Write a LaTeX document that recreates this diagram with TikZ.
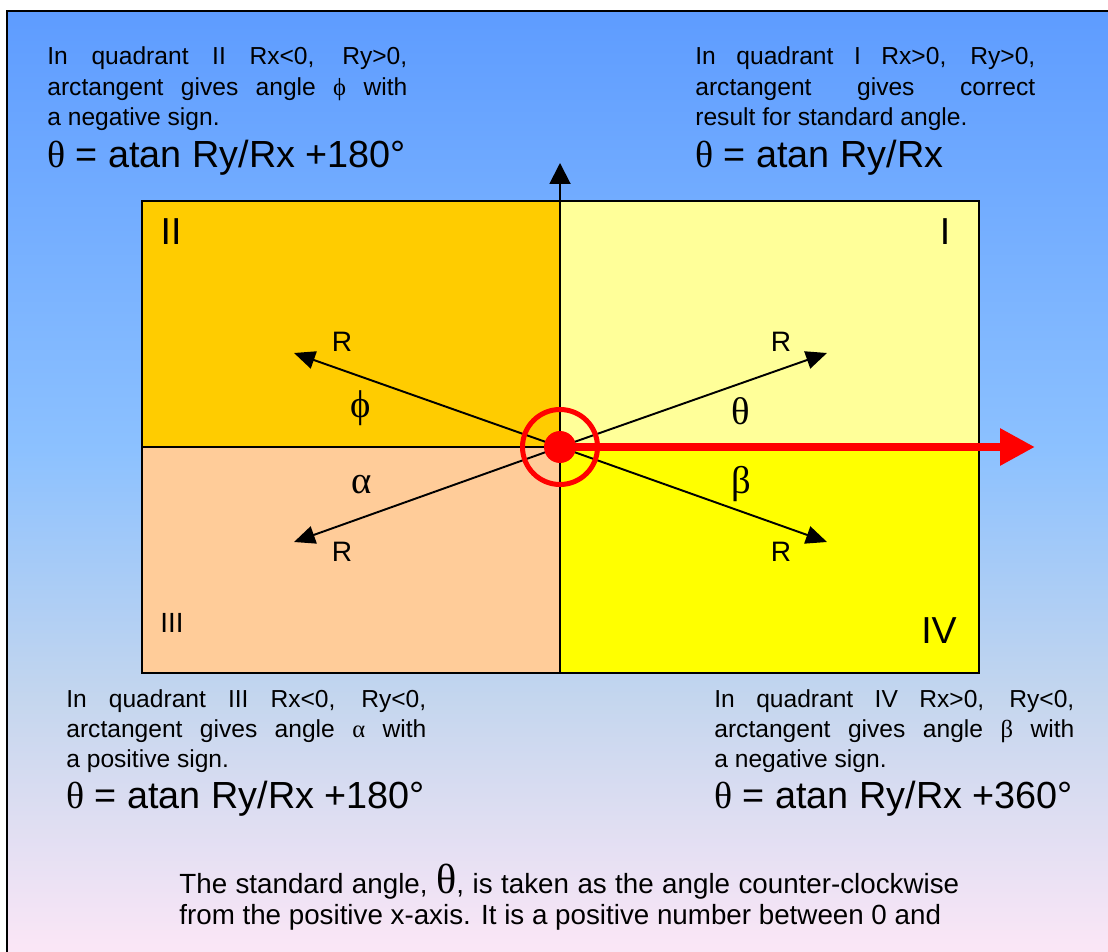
\documentclass[tikz,border=0pt]{standalone}
\usepackage{fontspec}
\setmainfont{Liberation Sans}
\newfontfamily\grk{Liberation Serif}
\usetikzlibrary{arrows.meta}
\definecolor{skytop}{RGB}{94,156,255}
\definecolor{skymid}{RGB}{140,193,255}
\definecolor{skylow}{RGB}{196,214,238}
\definecolor{skybot}{RGB}{250,230,246}
\definecolor{quadI}{RGB}{255,255,153}
\definecolor{quadII}{RGB}{255,204,0}
\definecolor{quadIII}{RGB}{255,204,153}
\definecolor{quadIV}{RGB}{255,255,0}
\pgfdeclareverticalshading{sky}{100bp}{color(0bp)=(skybot); color(26bp)=(skybot);
  color(39bp)=(skylow); color(52bp)=(skymid); color(75bp)=(skytop); color(100bp)=(skytop)}
\tolerance=9999
\hyphenpenalty=10000
\begin{document}
\begin{tikzpicture}[
  x=0.02cm, y=-0.02cm,
  every node/.style={inner sep=0pt, font=\fontsize{14}{17.3}\selectfont},
  note/.style={anchor=base west, text width=#1, align=justify},
  formula/.style={anchor=base west, font=\fontsize{21.5}{25}\selectfont},
  numeral/.style={font=\fontsize{21.4}{25}\selectfont},
  greek/.style={font=\fontsize{22}{26}\selectfont\grk},
  rlabel/.style={font=\fontsize{16}{19}\selectfont},
  vec/.style={line width=1.1pt, -{Triangle[length=0.42cm,width=0.36cm]}},
  divider/.style={line width=1.1pt},
  dot/.style={circle, fill=red, minimum size=0.64cm}
]
% page and shaded frame
\useasboundingbox (0,0) rectangle (1108,952);
\clip (0,0) rectangle (1108,952);
\fill[white] (0,0) rectangle (1108,952);
\shade[shading=sky] (7,11) rectangle (1120,965);
\draw[line width=1.2pt] (1120,11) -- (7,11) -- (7,965);

% quadrants
\fill[quadII] (142,201) rectangle (560,447);
\fill[quadI] (560,201) rectangle (979,447);
\fill[quadIII] (142,447) rectangle (560,673);
\fill[quadIV] (560,447) rectangle (979,673);
\draw[divider] (142,201) rectangle (979,673);
\draw[divider] (142,447) -- (979,447);

% axis, vectors and the red x-axis
\coordinate (origin) at (560,447);
\coordinate (ybase) at (560,673);
\coordinate (ytip) at (560,163);
\coordinate (xtip) at (1035,447);
\coordinate (rI) at (827,353);
\coordinate (rII) at (294,353);
\coordinate (rIII) at (294,542);
\coordinate (rIV) at (827,542);
\draw[divider, -{Triangle[length=0.42cm,width=0.42cm]}] (ybase) -- (ytip);
\foreach \tip in {rI,rII,rIII,rIV}
  \draw[vec] (origin) -- (\tip);
\draw[red, line width=5.1pt, -{Triangle[length=0.7cm,width=0.7cm]}] (origin) -- (xtip);
\draw[red, line width=2.85pt] (origin) circle[radius=37.5];
\node[dot] (pole) at (origin) {};

% quadrant numerals
\node[numeral] (numII) at (171,232) {II};
\node[numeral] (numI) at (945,232) {I};
\node[font=\fontsize{15.8}{19}\selectfont] (numIII) at (172,623) {III};
\node[numeral] (numIV) at (939,631) {IV};

% vector and angle labels
\node[rlabel] (lenII) at (342,342) {R};
\node[rlabel] (lenI) at (781,342) {R};
\node[rlabel] (lenIII) at (342,552) {R};
\node[rlabel] (lenIV) at (781,552) {R};
\node[greek] (phi) at (361,408) {ϕ};
\node[greek] (theta) at (741,411) {θ};
\node[greek] (alpha) at (362,485) {α};
\node[greek] (beta) at (741,484) {β};

% notes
\node[note=7.2cm] (noteII) at (47,65) {In quadrant II Rx<0, Ry>0,\linebreak arctangent gives angle {\grk ϕ} with\linebreak a negative sign.};
\node[formula] (ruleII) at (47,168) {{\grk θ} = atan Ry/Rx +180°};
\node[note=6.8cm] (noteI) at (695,65) {In quadrant I Rx>0, Ry>0,\linebreak arctangent gives correct\linebreak result for standard angle.};
\node[formula] (ruleI) at (695,168) {{\grk θ} = atan Ry/Rx};
\node[note=7.2cm] (noteIII) at (66,707) {In quadrant III Rx<0, Ry<0,\linebreak arctangent gives angle {\grk α} with\linebreak a positive sign.};
\node[formula] (ruleIII) at (66,808) {{\grk θ} = atan Ry/Rx +180°};
\node[note=7.2cm] (noteIV) at (714,707) {In quadrant IV Rx>0, Ry<0,\linebreak arctangent gives angle {\grk β} with\linebreak a negative sign.};
\node[formula] (ruleIV) at (714,808) {{\grk θ} = atan Ry/Rx +360°};
\node[note=15.6cm, font=\fontsize{15.8}{18.2}\selectfont] (standard) at (179,893) {\parfillskip=0pt The standard angle, {\grk\fontsize{24}{24}\selectfont θ}, is taken as the angle counter-clockwise\linebreak from the positive x-axis. It is a positive number between 0 and};
\end{tikzpicture}
\end{document}
